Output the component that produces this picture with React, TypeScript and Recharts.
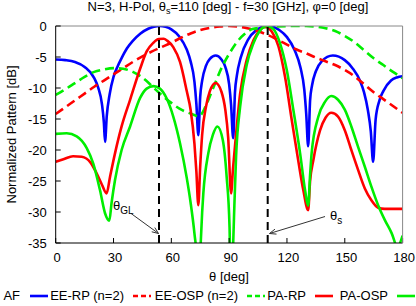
import React from 'react';
import { LineChart, Line, XAxis, YAxis, ReferenceLine } from 'recharts';

const FONT = '"Liberation Sans", Arial, Helvetica, sans-serif';

const xTicks = [0, 30, 60, 90, 120, 150, 180];
const yTicks = [0, -5, -10, -15, -20, -25, -30, -35];
const steerMarkers = [53.6, 110];

// [theta (deg), pattern (dB)]
const afPts: [number, number][] = [
  [0, -5.4], [5, -5.5], [10, -5.8], [15, -6.6], [20, -8.4], [22, -9.9], [24, -12.6], [25, -15.6],
  [25.6, -18.7], [26.5, -14.5], [28, -11], [30, -8.2], [32, -6.6], [34, -5.3], [37, -3.6], [40, -2.4],
  [44, -1.2], [48, -0.44], [51, -0.1], [54, 0], [57, -0.13], [60, -0.53], [64, -1.64], [68, -3.8],
  [70, -5.7], [72, -9.0], [73, -12.6], [74, -17.6], [75, -11.3], [76, -8.8], [78, -6.4], [80, -5.3],
  [83, -4.77], [86, -5.4], [88, -6.6], [90, -9.4], [91, -12.7], [92.1, -18.1], [93, -10.8], [94, -8.0],
  [96, -5.1], [100, -2.1], [104, -0.7], [107, -0.17], [110, 0], [113, -0.16], [116, -0.64], [120, -1.8],
  [124, -3.9], [127, -6.7], [129, -10.3], [130, -14.2], [131, -19.4], [132, -12.0], [133, -9.6],
  [135, -7.3], [138, -5.7], [143.8, -4.77], [150, -5.5], [154, -6.8], [158, -8.9], [160, -10.7],
  [162, -13.6], [163.5, -17], [164.7, -21.9], [166, -15.1], [168, -12.0], [170, -10.5], [174, -8.8],
  [177, -8.3], [180, -8.1],
];

const eeRpPts: [number, number][] = [
  [0, -14.2], [5, -13.1], [10, -12.0], [15, -10.9], [20, -9.8], [25, -8.8], [30, -7.8], [35, -6.8],
  [40, -5.8], [45, -4.9], [50, -4.1], [55, -3.4], [60, -2.7], [65, -1.9], [70, -1.2], [75, -0.65],
  [80, -0.3], [85, -0.08], [90, 0], [95, -0.1], [100, -0.4], [105, -0.85], [110, -1.45], [115, -2.2],
  [120, -3.0], [125, -3.8], [130, -4.4], [135, -5.1], [140, -5.7], [145, -6.3], [150, -7.1],
  [155, -8.1], [160, -9.4], [165, -10.7], [170, -11.8], [175, -12.9], [180, -14.0],
];

const eeOspPts: [number, number][] = [
  [0, -11.1], [5, -10.2], [10, -9.2], [15, -8.2], [20, -7.4], [25, -7.0], [30, -6.8], [35, -6.9],
  [40, -7.4], [44, -8.1], [48, -9.1], [52, -10.3], [56, -11.4], [60, -12.4], [64, -13.3], [68, -13.9],
  [71.5, -14.3], [74, -14.6], [75.5, -14.3], [78, -12.8], [82, -9.8], [86, -6.8], [90, -4.5],
  [94, -2.6], [98, -1.3], [102, -0.5], [106, -0.3], [110, -0.15], [115, -0.06], [120, -0.02],
  [125, 0], [130, 0], [135, -0.1], [140, -0.35], [145, -0.8], [150, -1.6], [155, -2.6], [160, -3.9],
  [165, -5.2], [170, -6.3], [175, -7.4], [180, -8.4],
];

const paRpPts: [number, number][] = [
  [0, -21.9], [4, -21.5], [9, -21.0], [13.5, -21.1], [18, -22.0], [21.3, -23.8], [24, -25.6],
  [26.4, -27.0], [28.2, -24.3], [30.8, -20.5], [34.2, -16.2], [38.6, -11.9], [43.8, -6.9],
  [47.2, -4.1], [50.7, -2.7], [53.5, -2.1], [56, -2.05], [58, -2.4], [61, -3.4], [64.5, -5.8],
  [68, -10.5], [70, -13.5], [72, -19], [73, -23.5], [74, -28.9], [75, -22.5], [76, -17.5], [78, -13],
  [80, -10.5], [83, -9.2], [86, -10.6], [88, -13.5], [89.5, -18], [91, -27.0], [92, -23], [93, -19.5],
  [95.7, -10.9], [99.1, -5.5], [102.6, -2.3], [106, -0.65], [108.6, -0.1], [112.1, -0.9],
  [115.6, -3.3], [119, -8.2], [122.5, -15.2], [126, -22], [128.5, -26.5], [131, -29.7], [132, -25],
  [133.7, -21.6], [137.2, -16.8], [140, -14.8], [143, -14.0], [146.5, -14.6], [150, -16.8],
  [153.4, -20], [156.9, -23.2], [160.4, -26.2], [163.8, -28.1], [167.3, -29.3], [170.8, -29.5],
  [180, -29.5],
];

const paOspPts: [number, number][] = [
  [0, -17.4], [5.7, -17.3], [10.9, -17.8], [16.1, -19.7], [19.5, -22.2], [23, -26.5], [25.6, -30.2],
  [27.8, -31.4], [29, -28.5], [30.8, -24.8], [34.2, -20], [38.6, -16.2], [43.8, -11.6], [47.2, -10.1],
  [50.7, -9.7], [54.1, -10.1], [57.6, -11.7], [61, -14.6], [64.5, -18.9], [68, -24.5], [70, -28.5],
  [72, -33.5], [73.3, -38], [74, -44], [74.8, -38], [76, -30], [76.6, -27], [79.2, -20.5],
  [81.5, -17.6], [83.9, -16.2], [86.7, -18.4], [88.7, -24.3], [90.2, -32.4], [91, -44], [91.8, -38],
  [92.5, -31], [93.6, -21], [95.7, -13], [99.1, -6.3], [102.6, -2.8], [106, -0.75], [109.5, 0],
  [113, -0.5], [116.4, -2.8], [119.9, -7.1], [123.3, -13.5], [126.8, -20.5], [129.4, -26.5],
  [131, -29.0], [132, -24], [132.8, -20.5], [136.3, -14.6], [139.8, -12.2], [143, -11.3],
  [146.5, -11.9], [150, -13.5], [153.4, -16.2], [156.9, -19.5], [160.4, -22.7], [163.8, -25.9],
  [167.3, -28.9], [170.8, -31.3], [174.3, -33.4], [177.3, -35.6], [180, -33.8],
];

// annotation arrows: [start, end] in data units
const glArrow = [{ x: 39.1, y: -30.24 }, { x: 53.35, y: -33.47 }];
const sArrow = [{ x: 139.75, y: -30.73 }, { x: 110.95, y: -33.47 }];

const legendItems = [
  { label: 'AF', color: '#0000ff', dash: undefined as string | undefined, textEnd: 20, x1: 30 },
  { label: 'EE-RP (n=2)', color: '#ff0000', dash: '5 3', textEnd: 124, x1: 133 },
  { label: 'EE-OSP (n=2)', color: '#00ee00', dash: '5 3', textEnd: 238, x1: 247 },
  { label: 'PA-RP', color: '#ff0000', dash: undefined, textEnd: 306, x1: 315 },
  { label: 'PA-OSP', color: '#00ee00', dash: undefined, textEnd: 388, x1: 397 },
];

const toData = (pts: [number, number][]) => pts.map(([t, v]) => ({ t, v }));

const makeArrow = (main: string, sub: string, side: 'left' | 'right') => (props: any) => {
  const { x1, y1, x2, y2 } = props;
  if ([x1, y1, x2, y2].some((n: any) => typeof n !== 'number' || isNaN(n))) return <g />;
  const ang = Math.atan2(y2 - y1, x2 - x1);
  const L = 7;
  const w = 0.38;
  const ax = x2 - L * Math.cos(ang - w);
  const ay = y2 - L * Math.sin(ang - w);
  const bx = x2 - L * Math.cos(ang + w);
  const by = y2 - L * Math.sin(ang + w);
  const tx = side === 'left' ? x1 - 18 : x1 + 5;
  const ty = side === 'left' ? y1 - 3.5 : y1 + 3.5;
  return (
    <g>
      <line x1={x1} y1={y1} x2={x2} y2={y2} stroke="#333" strokeWidth={1} />
      <polyline points={`${ax},${ay} ${x2},${y2} ${bx},${by}`} fill="none" stroke="#333" strokeWidth={1} />
      <text x={tx} y={ty} fontFamily={FONT} fontSize={13} fill="#000">
        {main}
        <tspan fontSize={10} dy={4}>{sub}</tspan>
      </text>
    </g>
  );
};

export default function App() {
  return (
    <div style={{ position: 'fixed', left: 0, top: 0, width: 416, height: 306, background: '#fff' }}>
      <LineChart
        width={416}
        height={306}
        margin={{ top: 25, right: 12.4, left: 0, bottom: 33 }}
        style={{ fontFamily: FONT }}
      >
        <XAxis
          dataKey="t"
          type="number"
          domain={[0, 180]}
          ticks={xTicks}
          allowDataOverflow
          height={30}
          tickSize={-5}
          tickMargin={14.5}
          stroke="#000"
          tick={{ fill: '#000', fontSize: 13, fontFamily: FONT, dx: 1.5 }}
          axisLine={{ stroke: '#000', strokeWidth: 1 }}
          tickLine={{ stroke: '#000' }}
        />
        <XAxis
          xAxisId="top"
          orientation="top"
          type="number"
          domain={[0, 180]}
          ticks={xTicks}
          allowDataOverflow
          height={1}
          tickSize={-5}
          tick={false}
          axisLine={{ stroke: '#888', strokeWidth: 1 }}
          tickLine={{ stroke: '#555' }}
        />
        <YAxis
          type="number"
          domain={[-35, 0]}
          ticks={yTicks}
          allowDataOverflow
          width={55.7}
          tickSize={-5}
          tickMargin={14}
          tick={{ fill: '#000', fontSize: 13, fontFamily: FONT }}
          axisLine={{ stroke: '#000', strokeWidth: 1 }}
          tickLine={{ stroke: '#000' }}
        />
        <YAxis
          yAxisId="right"
          orientation="right"
          type="number"
          domain={[-35, 0]}
          ticks={yTicks}
          allowDataOverflow
          width={1}
          tickSize={-5}
          tick={false}
          axisLine={{ stroke: '#888', strokeWidth: 1 }}
          tickLine={{ stroke: '#555' }}
        />
        <Line data={toData(afPts)} dataKey="v" type="monotone" stroke="#0000ff" strokeWidth={2.6} dot={false} isAnimationActive={false} />
        <Line data={toData(eeRpPts)} dataKey="v" type="monotone" stroke="#ff0000" strokeWidth={2.6} strokeDasharray="9 5" dot={false} isAnimationActive={false} />
        <Line data={toData(eeOspPts)} dataKey="v" type="monotone" stroke="#00ee00" strokeWidth={2.6} strokeDasharray="9 5" dot={false} isAnimationActive={false} />
        <Line data={toData(paRpPts)} dataKey="v" type="monotone" stroke="#ff0000" strokeWidth={2.6} dot={false} isAnimationActive={false} />
        <Line data={toData(paOspPts)} dataKey="v" type="monotone" stroke="#00ee00" strokeWidth={2.6} dot={false} isAnimationActive={false} />
        {steerMarkers.map((m) => (
          <ReferenceLine key={m} x={m} stroke="#000" strokeWidth={2} strokeDasharray="8 5" />
        ))}
        <ReferenceLine segment={glArrow} shape={makeArrow('θ', 'GL', 'left')} />
        <ReferenceLine segment={sArrow} shape={makeArrow('θ', 's', 'right')} />
      </LineChart>
      <svg width={416} height={306} style={{ position: 'absolute', left: 0, top: 0, pointerEvents: 'none' }}>
        <text x={228} y={11} textAnchor="middle" fontFamily={FONT} fontSize={13} fill="#000">
          N=3, H-Pol, θ<tspan fontSize={9} dy={3}>s</tspan>
          <tspan dy={-3}>=110 [deg] - f=30 [GHz], φ=0 [deg]</tspan>
        </text>
        <text
          x={16}
          y={134.5}
          transform="rotate(-90 16 134.5)"
          textAnchor="middle"
          fontFamily={FONT}
          fontSize={13}
          fill="#000"
        >
          Normalized Pattern [dB]
        </text>
        <text x={229} y={281} textAnchor="middle" fontFamily={FONT} fontSize={13} fill="#000">
          θ [deg]
        </text>
        {legendItems.map((it) => (
          <g key={it.label}>
            <text x={it.textEnd} y={300} textAnchor="end" fontFamily={FONT} fontSize={13} fill="#000">
              {it.label}
            </text>
            <line x1={it.x1} y1={296} x2={it.x1 + 18} y2={296} stroke={it.color} strokeWidth={2.6} strokeDasharray={it.dash} />
          </g>
        ))}
      </svg>
    </div>
  );
}
